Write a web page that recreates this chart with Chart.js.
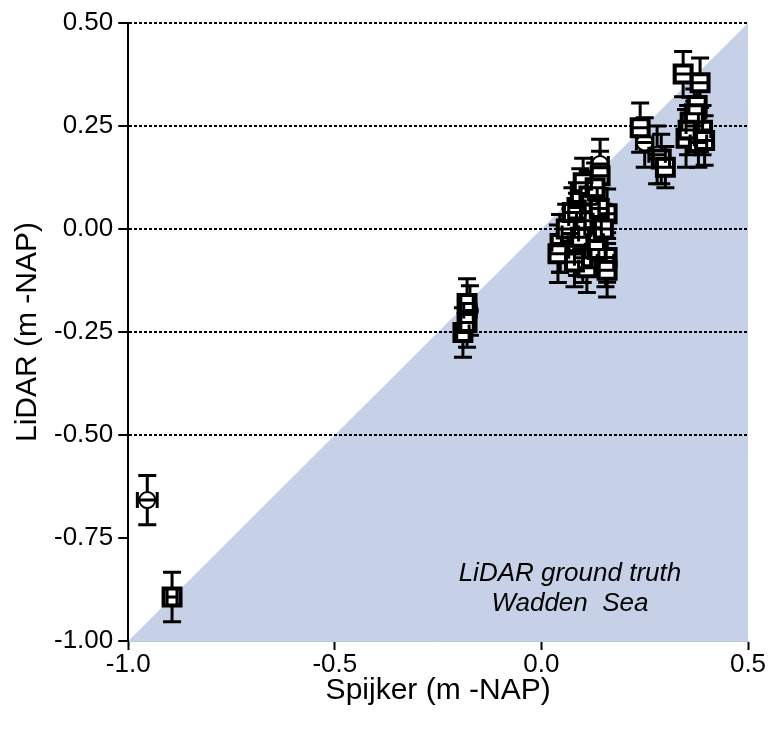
<!DOCTYPE html>
<html lang="en">
<head>
  <meta charset="UTF-8">
  <title>LiDAR ground truth</title>
  <script src="https://cdn.jsdelivr.net/npm/chart.js"></script>
  <style>
    body {
      margin: 0;
      background: #fff;
    }
    #chart-container {
      width: 770px;
      height: 731px;
    }
  </style>
</head>
<body>
  <div id="chart-container">
    <canvas id="lidarChart"></canvas>
  </div>
  <script>
    // 1:1 line, the area under it is shaded
    const identityX = [-1, 0.5];
    const identityY = [-1, 0.5];

    // square markers (Spijker vs LiDAR, m -NAP)
    const squareX = [-0.894, -0.18, -0.19, -0.18, 0.045, 0.04, 0.07, 0.086, 0.11, 0.159, 0.159, 0.125, 0.159, 0.086, 0.086, 0.094, 0.101, 0.142, 0.12, 0.105, 0.13,
      0.06, 0.075, 0.095, 0.115, 0.13, 0.14, 0.10, 0.135, 0.08, 0.15,
      0.239, 0.29, 0.343, 0.384, 0.377, 0.36, 0.39, 0.35, 0.38, 0.37, 0.355, 0.395, 0.30];
    const squareY = [-0.893, -0.181, -0.251, -0.227, -0.035, -0.06, -0.011, -0.053, -0.094, -0.069, -0.10, 0.003, 0.037, 0.027, 0.052, 0.086, 0.112, 0.129, 0.06, 0.02, -0.03,
      0.0, 0.04, -0.02, 0.08, 0.10, 0.05, -0.07, -0.05, -0.08, 0.0,
      0.246, 0.17, 0.376, 0.355, 0.30, 0.26, 0.24, 0.22, 0.21, 0.28, 0.24, 0.215, 0.15];
    const squareXErr = [0.012, 0.015, 0.015, 0.015, 0.02, 0.02, 0.02, 0.02, 0.02, 0.02, 0.02, 0.02, 0.02, 0.02, 0.02, 0.02, 0.02, 0.02, 0.02, 0.02, 0.02,
      0.02, 0.02, 0.02, 0.02, 0.02, 0.02, 0.02, 0.02, 0.02, 0.02,
      0.02, 0.02, 0.02, 0.02, 0.02, 0.02, 0.02, 0.02, 0.02, 0.02, 0.02, 0.02, 0.02];
    const squareYErr = [0.06, 0.06, 0.06, 0.06, 0.07, 0.07, 0.06, 0.06, 0.06, 0.06, 0.065, 0.06, 0.06, 0.06, 0.06, 0.06, 0.06, 0.06, 0.06, 0.06, 0.06,
      0.06, 0.06, 0.06, 0.06, 0.06, 0.06, 0.06, 0.06, 0.06, 0.06,
      0.06, 0.06, 0.055, 0.06, 0.06, 0.06, 0.06, 0.07, 0.06, 0.06, 0.06, 0.06, 0.05];

    // circle markers
    const circleX = [-0.954, -0.173, 0.142, 0.045, 0.25, 0.28, 0.37, 0.155, 0.10];
    const circleY = [-0.658, -0.198, 0.158, -0.035, 0.21, 0.18, 0.25, -0.08, 0.00];
    const circleXErr = [0.024, 0.015, 0.02, 0.02, 0.02, 0.02, 0.02, 0.02, 0.02];
    const circleYErr = [0.06, 0.06, 0.06, 0.07, 0.06, 0.07, 0.06, 0.06, 0.06];

    const xTicks = [-1.0, -0.5, 0.0, 0.5];
    const yTicks = [-1.0, -0.75, -0.5, -0.25, 0.0, 0.25, 0.5];

    const toPoints = (xs, ys) => xs.map((x, i) => ({ x: x, y: ys[i] }));

    const errSets = [
      [squareX, squareY, squareXErr, squareYErr],
      [circleX, circleY, circleXErr, circleYErr],
    ];

    // vertical error bars go under the markers, horizontal ones over them
    function drawBars(chart, vertical) {
      const ctx = chart.ctx;
      const xs = chart.scales.x;
      const ys = chart.scales.y;
      ctx.save();
      ctx.strokeStyle = "#000";
      ctx.lineWidth = 3;
      errSets.forEach(([vx, vy, ex, ey]) => {
        vx.forEach((x, i) => {
          const px = xs.getPixelForValue(x);
          const py = ys.getPixelForValue(vy[i]);
          ctx.beginPath();
          if (vertical) {
            const top = ys.getPixelForValue(vy[i] + ey[i]);
            const bot = ys.getPixelForValue(vy[i] - ey[i]);
            ctx.moveTo(px, top); ctx.lineTo(px, bot);
            ctx.moveTo(px - 9, top); ctx.lineTo(px + 9, top);
            ctx.moveTo(px - 9, bot); ctx.lineTo(px + 9, bot);
          } else {
            const left = xs.getPixelForValue(x - ex[i]);
            const right = xs.getPixelForValue(x + ex[i]);
            ctx.moveTo(left, py); ctx.lineTo(right, py);
            ctx.moveTo(left, py - 8); ctx.lineTo(left, py + 8);
            ctx.moveTo(right, py - 8); ctx.lineTo(right, py + 8);
          }
          ctx.stroke();
        });
      });
      ctx.restore();
    }

    const errorBars = {
      id: "errorBars",
      beforeDatasetsDraw(chart) { drawBars(chart, true); },
      afterDatasetsDraw(chart) { drawBars(chart, false); },
    };

    const caption = {
      id: "caption",
      afterDraw(chart) {
        const ctx = chart.ctx;
        const cx = chart.scales.x.getPixelForValue(0.069);
        ctx.save();
        ctx.fillStyle = "#000";
        ctx.font = "italic 26px 'Liberation Sans', Arial, sans-serif";
        ctx.textAlign = "center";
        ctx.textBaseline = "middle";
        ctx.fillText("LiDAR ground truth", cx, chart.scales.y.getPixelForValue(-0.836));
        ctx.fillText("Wadden  Sea", cx, chart.scales.y.getPixelForValue(-0.91));
        ctx.restore();
      },
    };

    const fontFamily = "'Liberation Sans', Arial, sans-serif";
    const ctx = document.getElementById("lidarChart").getContext("2d");

    new Chart(ctx, {
      type: "scatter",
      data: {
        datasets: [
          {
            label: "1:1",
            type: "line",
            data: toPoints(identityX, identityY),
            fill: "start",
            backgroundColor: "#c6d1e8",
            borderWidth: 0,
            pointRadius: 0,
          },
          {
            label: "squares",
            data: toPoints(squareX, squareY),
            pointStyle: "rect",
            radius: 12,
            backgroundColor: "#fff",
            borderColor: "#000",
            borderWidth: 4,
          },
          {
            label: "circles",
            data: toPoints(circleX, circleY),
            pointStyle: "circle",
            radius: 8,
            backgroundColor: "#fff",
            borderColor: "#000",
            borderWidth: 2,
          },
        ],
      },
      options: {
        responsive: true,
        maintainAspectRatio: false,
        animation: false,
        layout: {
          padding: { top: 23, right: 22, bottom: 25, left: 13 },
        },
        plugins: {
          legend: { display: false },
          tooltip: { enabled: false },
          filler: { drawTime: "beforeDraw" },
        },
        scales: {
          x: {
            type: "linear",
            min: -1,
            max: 0.5,
            afterBuildTicks: (axis) => { axis.ticks = xTicks.map(v => ({ value: v })); },
            ticks: {
              color: "#000",
              font: { family: fontFamily, size: 26, lineHeight: 1.0 },
              padding: 2,
              callback: (v) => Number(v).toFixed(1),
            },
            grid: {
              drawOnChartArea: false,
              color: "#000",
              tickLength: 9,
              tickWidth: 2,
            },
            border: { color: "#bcc6da", width: 1 },
            title: {
              display: true,
              text: "Spijker (m -NAP)",
              color: "#000",
              font: { family: fontFamily, size: 30, lineHeight: 1.0 },
              padding: { top: -4, bottom: 0 },
            },
          },
          y: {
            type: "linear",
            min: -1,
            max: 0.5,
            afterBuildTicks: (axis) => { axis.ticks = yTicks.map(v => ({ value: v })); },
            ticks: {
              color: "#000",
              font: { family: fontFamily, size: 26, lineHeight: 1.0 },
              padding: 5,
              callback: (v) => Number(v).toFixed(2),
            },
            grid: {
              color: (c) => (c.tick && c.tick.value >= -0.5 ? "#000" : "rgba(0,0,0,0)"),
              lineWidth: 2,
              tickColor: "#000",
              tickLength: 10,
              tickWidth: 2,
              tickBorderDash: [],
            },
            border: { color: "#000", width: 2, dash: [3, 2] },
            title: {
              display: true,
              text: "LiDAR (m -NAP)",
              color: "#000",
              font: { family: fontFamily, size: 30, lineHeight: 1.0 },
              padding: { top: 0, bottom: 6 },
            },
          },
        },
      },
      plugins: [errorBars, caption],
    });
  </script>
</body>
</html>
